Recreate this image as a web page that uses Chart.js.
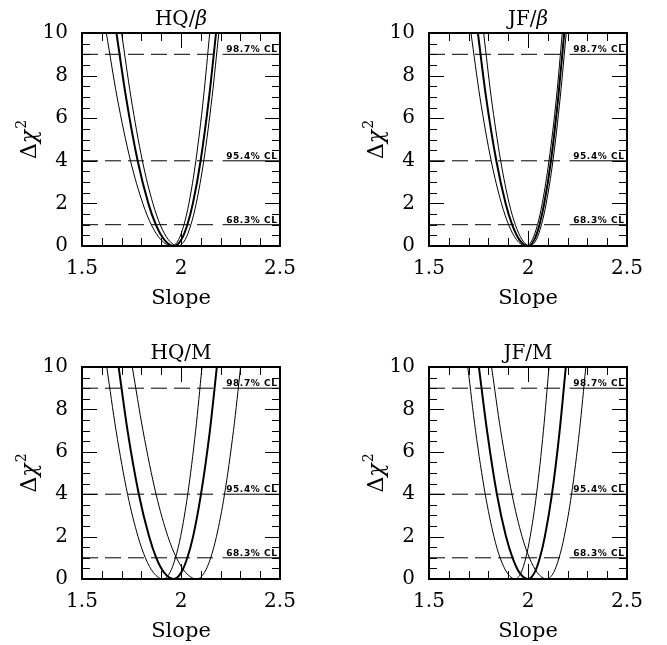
<!DOCTYPE html>
<html>
<head>
<meta charset="utf-8">
<script src="https://cdn.jsdelivr.net/npm/chart.js@4.4.0/dist/chart.umd.min.js"></script>
<style>
  body { margin: 0; background: #fff; width: 667px; height: 645px; position: relative; overflow: hidden; }
  canvas { position: absolute; }
</style>
</head>
<body>
<canvas id="hqBeta" width="320" height="318" style="left:0;top:0"></canvas>
<canvas id="jfBeta" width="320" height="318" style="left:347px;top:0"></canvas>
<canvas id="hqM" width="320" height="317" style="left:0;top:334px"></canvas>
<canvas id="jfM" width="320" height="317" style="left:347px;top:334px"></canvas>
<script>
// Δχ² at which the slope of each curve is tabulated: left branch, minimum, right branch
const dchiLevels = [10, 7, 4, 2, 1, 0.3, 0, 0.3, 1, 2, 4, 7, 10];

// confidence-level reference lines
const clLevels = [1, 4, 9];
const clLabels = ["68.3% CL", "95.4% CL", "98.7% CL"];

// slope values along each curve (thin, thick = best fit, thin)
const hqBetaLow = [1.623, 1.677, 1.745, 1.807, 1.850, 1.898, 1.955, 1.988, 2.015, 2.040, 2.075, 2.114, 2.145];
const hqBetaFit = [1.674, 1.722, 1.781, 1.835, 1.873, 1.915, 1.965, 2.002, 2.032, 2.060, 2.099, 2.142, 2.177];
const hqBetaHigh = [1.700, 1.747, 1.805, 1.858, 1.895, 1.936, 1.985, 2.021, 2.050, 2.077, 2.115, 2.157, 2.191];

const jfBetaLow = [1.712, 1.757, 1.814, 1.866, 1.902, 1.942, 1.990, 2.022, 2.048, 2.072, 2.106, 2.144, 2.173];
const jfBetaFit = [1.747, 1.788, 1.840, 1.887, 1.920, 1.956, 2.000, 2.032, 2.058, 2.082, 2.116, 2.153, 2.183];
const jfBetaHigh = [1.776, 1.814, 1.862, 1.905, 1.936, 1.970, 2.010, 2.042, 2.068, 2.092, 2.126, 2.163, 2.193];

const hqMLow = [1.625, 1.672, 1.730, 1.783, 1.820, 1.861, 1.910, 1.944, 1.972, 1.998, 2.034, 2.074, 2.106];
const hqMFit = [1.685, 1.730, 1.787, 1.839, 1.875, 1.915, 1.963, 2.001, 2.032, 2.061, 2.101, 2.146, 2.181];
const hqMHigh = [1.754, 1.808, 1.874, 1.934, 1.977, 2.024, 2.080, 2.118, 2.150, 2.179, 2.220, 2.265, 2.301];

const jfMLow = [1.696, 1.735, 1.784, 1.828, 1.859, 1.894, 1.935, 1.965, 1.989, 2.011, 2.043, 2.078, 2.106];
const jfMFit = [1.752, 1.793, 1.843, 1.889, 1.922, 1.957, 2.000, 2.033, 2.060, 2.085, 2.121, 2.160, 2.191];
const jfMHigh = [1.816, 1.862, 1.919, 1.970, 2.007, 2.047, 2.095, 2.129, 2.157, 2.183, 2.220, 2.260, 2.292];

const panels = [
  { id: "hqBeta", name: "HQ/", sym: "β", curves: [hqBetaLow, hqBetaFit, hqBetaHigh] },
  { id: "jfBeta", name: "JF/", sym: "β", curves: [jfBetaLow, jfBetaFit, jfBetaHigh] },
  { id: "hqM", name: "HQ/M", sym: "", curves: [hqMLow, hqMFit, hqMHigh] },
  { id: "jfM", name: "JF/M", sym: "", curves: [jfMLow, jfMFit, jfMHigh] },
];

const SERIF = "'DejaVu Serif', 'Liberation Serif', serif";
const SANS = "'DejaVu Sans', 'Liberation Sans', sans-serif";

function curvePoints(xs) {
  return xs.map((x, i) => ({ x, y: dchiLevels[i] }));
}

// inside tick marks on all four sides plus the box
const frameTicks = {
  id: "frameTicks",
  afterDatasetsDraw(chart) {
    const { ctx, chartArea: a, scales } = chart;
    const x = scales.x, y = scales.y;
    ctx.save();
    ctx.strokeStyle = "#000";
    ctx.lineWidth = 1;
    ctx.beginPath();
    for (let i = 0; i <= 10; i++) {
      const px = Math.round(x.getPixelForValue(1.5 + i * 0.1)) + 0.5;
      const len = i % 5 === 0 ? 15 : 8;
      ctx.moveTo(px, a.bottom); ctx.lineTo(px, a.bottom - len);
      ctx.moveTo(px, a.top); ctx.lineTo(px, a.top + len);
    }
    for (let i = 0; i <= 20; i++) {
      const py = Math.round(y.getPixelForValue(i * 0.5)) + 0.5;
      const len = i % 4 === 0 ? 15 : 8;
      ctx.moveTo(a.left, py); ctx.lineTo(a.left + len, py);
      ctx.moveTo(a.right, py); ctx.lineTo(a.right - len, py);
    }
    ctx.stroke();
    ctx.lineWidth = 2;
    ctx.strokeRect(a.left, a.top, a.right - a.left, a.bottom - a.top);

    // confidence-level tags above the reference lines
    ctx.fillStyle = "#000";
    ctx.font = "bold 9px " + SANS;
    ctx.letterSpacing = "0.6px";
    ctx.textAlign = "left";
    ctx.textBaseline = "alphabetic";
    clLevels.forEach((lv, i) => {
      ctx.fillText(clLabels[i], x.getPixelForValue(2.228), y.getPixelForValue(lv) - 2);
    });
    ctx.restore();
  },
};

// panel title with an italic symbol, and the rotated Δχ² axis label
const labels = {
  id: "labels",
  afterDraw(chart, args, opts) {
    const { ctx, chartArea: a } = chart;
    ctx.save();
    ctx.fillStyle = "#000";
    ctx.textBaseline = "alphabetic";
    ctx.textAlign = "left";
    ctx.font = "20px " + SERIF;
    const w1 = ctx.measureText(opts.name).width;
    ctx.font = "italic 20px " + SERIF;
    const w2 = opts.sym ? ctx.measureText(opts.sym).width : 0;
    const tx = (a.left + a.right) / 2 - (w1 + w2) / 2;
    const ty = a.top - 8;
    ctx.font = "20px " + SERIF;
    ctx.fillText(opts.name, tx, ty);
    if (opts.sym) {
      ctx.font = "italic 20px " + SERIF;
      ctx.fillText(opts.sym, tx + w1, ty);
    }

    ctx.translate(36, (a.top + a.bottom) / 2);
    ctx.rotate(-Math.PI / 2);
    ctx.font = "22px " + SERIF;
    const wd = ctx.measureText("Δ").width;
    ctx.font = "italic 22px " + SERIF;
    const wc = ctx.measureText("χ").width;
    ctx.font = "14px " + SERIF;
    const ws = ctx.measureText("2").width;
    const lx = -(wd + wc + ws + 1) / 2;
    ctx.font = "22px " + SERIF;
    ctx.fillText("Δ", lx, 0);
    ctx.font = "italic 22px " + SERIF;
    ctx.fillText("χ", lx + wd, 0);
    ctx.font = "14px " + SERIF;
    ctx.fillText("2", lx + wd + wc + 1, -10);
    ctx.restore();
  },
};

function makeChart(p) {
  const datasets = p.curves.map((xs, i) => ({
    data: curvePoints(xs),
    borderColor: "#000",
    borderWidth: i === 1 ? 2 : 1,
    pointRadius: 0,
    cubicInterpolationMode: "monotone",
    fill: false,
  }));
  clLevels.forEach((lv) => {
    datasets.push({
      data: [{ x: 1.5, y: lv }, { x: 2.19, y: lv }],
      borderColor: "#000",
      borderWidth: 1,
      borderDash: [16, 7],
      pointRadius: 0,
    });
    datasets.push({
      data: [{ x: 2.21, y: lv }, { x: 2.5, y: lv }],
      borderColor: "#000",
      borderWidth: 1,
      pointRadius: 0,
    });
  });

  return new Chart(document.getElementById(p.id), {
    type: "line",
    data: { datasets },
    options: {
      responsive: false,
      animation: false,
      events: [],
      layout: { padding: { top: 33, right: 40, left: 0, bottom: 0 } },
      plugins: {
        legend: { display: false },
        tooltip: { enabled: false },
        labels: { name: p.name, sym: p.sym },
      },
      scales: {
        x: {
          type: "linear",
          min: 1.5,
          max: 2.5,
          grid: { display: false, drawTicks: false },
          border: { display: false },
          ticks: {
            stepSize: 0.5,
            padding: 11,
            color: "#000",
            font: { family: SERIF, size: 20 },
            callback: (v) => String(Number(v.toFixed(1))),
          },
          title: {
            display: true,
            text: "Slope",
            color: "#000",
            font: { family: SERIF, size: 21 },
            padding: { top: 0, bottom: 7 },
          },
          afterFit: (s) => { s.height = 72; },
        },
        y: {
          type: "linear",
          min: 0,
          max: 10,
          grid: { display: false, drawTicks: false },
          border: { display: false },
          ticks: {
            stepSize: 2,
            padding: 14,
            color: "#000",
            font: { family: SERIF, size: 20 },
          },
          afterFit: (s) => { s.width = 82; },
        },
      },
    },
    plugins: [frameTicks, labels],
  });
}

panels.forEach(makeChart);
</script>
</body>
</html>
